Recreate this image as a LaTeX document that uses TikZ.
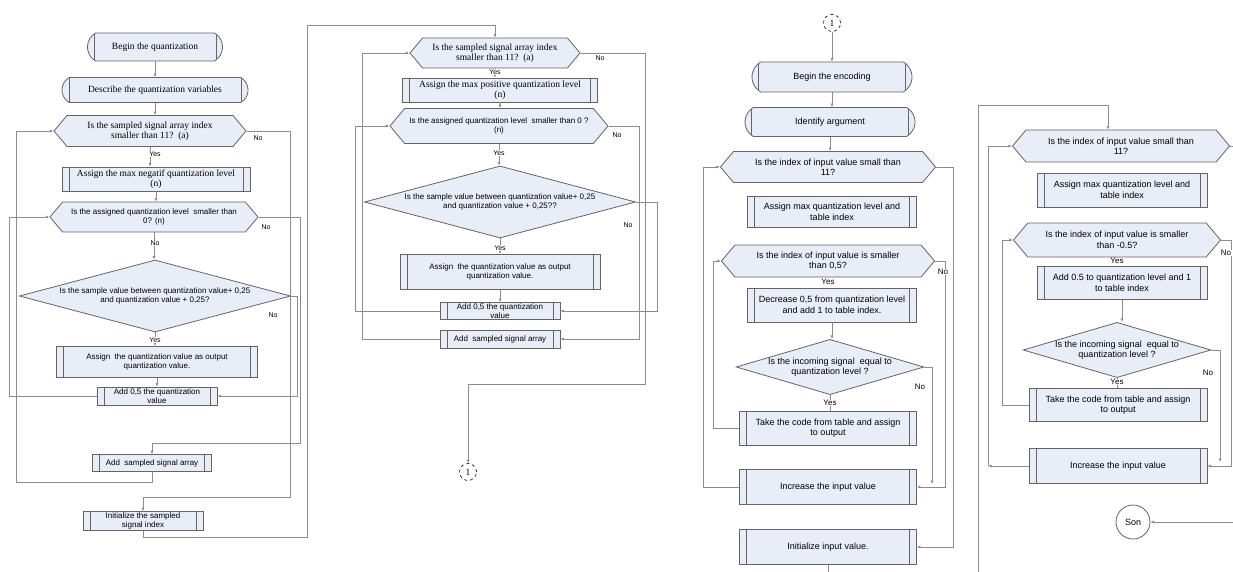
\documentclass[tikz,border=0pt]{standalone}
\usepackage{fontspec}
\setmainfont{Liberation Serif}
\newfontfamily\sansfam{Liberation Sans}
\usetikzlibrary{shapes.misc,shapes.symbols,shapes.geometric,arrows.meta}
\definecolor{boxfill}{RGB}{232,237,247}
\definecolor{shapeline}{RGB}{100,100,100}
\definecolor{lineclr}{RGB}{140,140,140}
\newcommand{\qrm}{\rmfamily\fontsize{9.5}{10}\selectfont}
\newcommand{\qsf}{\sansfam\fontsize{8}{9}\selectfont}
\newcommand{\esf}{\sansfam\fontsize{9}{10.5}\selectfont}
\newcommand{\qlab}{\sansfam\fontsize{7}{8}\selectfont}
\newcommand{\elab}{\sansfam\fontsize{8}{9}\selectfont}
\tikzset{
  sz/.style 2 args={minimum width=#1pt, minimum height=#2pt},
  shp/.style={draw=shapeline, fill=boxfill, line width=0.8pt, inner sep=0pt, align=center, text=black},
  innerbars/.style={path picture={
      \draw[shapeline, line width=0.6pt]
        ([xshift=#1]path picture bounding box.north west) -- ([xshift=#1]path picture bounding box.south west)
        ([xshift=-#1]path picture bounding box.north east) -- ([xshift=-#1]path picture bounding box.south east);}},
  term/.style={shp, rounded rectangle, rounded rectangle arc length=120, innerbars=9pt},
  proc/.style={shp, rectangle, innerbars=7pt},
  prep/.style={shp, signal, signal to=east and west, signal pointer angle=100},
  decide/.style={shp, diamond, aspect=#1},
  conn/.style={circle, draw=black, dashed, line width=0.6pt, inner sep=0pt, minimum size=17pt, font=\qrm},
  lbl/.style={fill=white, inner sep=0.5pt},
  arr/.style={draw=lineclr, line width=0.7pt, -{Latex[length=3.5pt,width=3pt]}},
  ln/.style={draw=lineclr, line width=0.7pt},
}
\begin{document}
\begin{tikzpicture}[x=1pt, y=-1pt]
\fill[white] (0,0) rectangle (1233,572);
\useasboundingbox (0,0) rectangle (1233,572);

% quantization, negative levels
\node[term, sz={135}{28}, font=\qrm] (q1beg) at (155,47) {Begin the quantization};
\node[term, sz={186}{25}, font=\qrm] (q1desc) at (155,90) {Describe the quantization variables};
\node[prep, sz={192}{31}, font=\qrm] (q1hexa) at (150,131) {Is the sampled signal array index\\smaller than 11?~~(a)};
\node[proc, sz={188}{24}, font=\qrm] (q1max) at (156,179) {Assign the max negatif quantization level\\(n)};
\node[prep, sz={208}{30}, font=\qsf] (q1hexb) at (154,217) {Is the assigned quantization level~~smaller than\\0? (n)};
\node[decide=4.9, sz={264}{72}, font=\qsf] (q1dia) at (155,296) {Is the sample value between quantization value+ 0,25\\and quantization value + 0,25?};
\node[proc, sz={201}{31}, font=\qsf] (q1out) at (157,362) {Assign~~the quantization value as output\\quantization value.};
\node[proc, sz={120}{18}, font=\qsf] (q1add) at (157,396) {Add 0,5 the quantization\\value};
\node[proc, sz={119}{17}, font=\qsf] (q1arr) at (152,463) {Add~~sampled signal array};
\node[proc, sz={120}{19}, font=\qsf] (q1init) at (143,521) {Initialize the sampled\\signal index};

% quantization, positive levels
\node[prep, sz={170}{30}, font=\qrm] (q2hexa) at (495,53) {Is the sampled signal array index\\smaller than 11?~~(a)};
\node[proc, sz={195}{24}, font=\qrm] (q2max) at (500,90) {Assign the max positive quantization level\\(n)};
\node[prep, sz={218}{35}, font=\qsf] (q2hexb) at (499,126) {Is the assigned quantization level~~smaller than 0 ?\\(n)};
\node[decide=4.9, sz={260}{72}, font=\qsf] (q2dia) at (500,202) {Is the sample value between quantization value+ 0,25\\and quantization value + 0,25??};
\node[proc, sz={200}{35}, font=\qsf] (q2out) at (500,272) {Assign~~the quantization value as output\\quantization value.};
\node[proc, sz={120}{17}, font=\qsf] (q2add) at (500,311) {Add 0,5 the quantization\\value};
\node[proc, sz={120}{18}, font=\qsf] (q2arr) at (500,339) {Add~~sampled signal array};
\node[conn] (q2con) at (468,472) {1};

% encoding, positive
\node[conn] (e1con) at (832,23) {1};
\node[term, sz={160}{30}, font=\esf] (e1beg) at (832,77) {Begin the encoding};
\node[term, sz={170}{29}, font=\esf] (e1arg) at (830,122) {Identify argument};
\node[prep, sz={215}{31}, font=\esf] (e1hexc) at (828,167) {Is the index of input value small than\\11?};
\node[proc, sz={169}{31}, font=\esf] (e1max) at (832,212) {Assign max quantization level and\\table index};
\node[prep, sz={213}{32}, font=\esf] (e1hexd) at (828,261) {Is the index of input value is smaller\\than 0,5?};
\node[proc, sz={169}{34}, font=\esf] (e1dec) at (832,305) {Decrease 0,5 from quantization level\\and add 1 to table index.};
\node[decide=3.4, sz={185}{55}, font=\esf] (e1dia) at (830,367) {Is the incoming signal~~equal to\\quantization level ?};
\node[proc, sz={177}{34}, font=\esf] (e1take) at (828,428) {Take the code from table and assign\\to output};
\node[proc, sz={177}{35}, font=\esf] (e1inc) at (828,487) {Increase the input value};
\node[proc, sz={177}{35}, font=\esf] (e1init) at (828,547) {Initialize input value.};

% encoding, negative
\node[prep, sz={217}{32}, font=\esf] (e2hexf) at (1121,146) {Is the index of input value small than\\11?};
\node[proc, sz={170}{34}, font=\esf] (e2max) at (1122,190) {Assign max quantization level and\\table index};
\node[prep, sz={207}{34}, font=\esf] (e2hexg) at (1117,240) {Is the index of input value is smaller\\than -0.5?};
\node[proc, sz={170}{33}, font=\esf] (e2add) at (1122,283) {Add 0.5 to quantization level and 1\\to table index};
\node[decide=3.4, sz={185}{55}, font=\esf] (e2dia) at (1117,350) {Is the incoming signal~~equal to\\quantization level ?};
\node[proc, sz={178}{33}, font=\esf] (e2take) at (1118,405) {Take the code from table and assign\\to output};
\node[proc, sz={178}{35}, font=\esf] (e2inc) at (1118,466) {Increase the input value};
\node[circle, draw=shapeline, fill=white, line width=0.8pt, minimum size=34pt, inner sep=0pt, font=\esf] (e2son) at (1133,522) {Son};

% free ends
\coordinate (e1join) at (932,484);
\coordinate (e1out) at (828,572);
\coordinate (e2in) at (978,572);
\coordinate (e2turn) at (988,466);
\coordinate (e2join) at (1220,462);
\coordinate (e2right) at (1233,146);
\coordinate (e2back) at (1233,522);

% edges
\foreach \a/\b in {q1beg/q1desc, q1desc/q1hexa, q1hexa/q1max, q1max/q1hexb, q1hexb/q1dia, q1dia/q1out, q1out/q1add,
                   q2hexa/q2max, q2max/q2hexb, q2hexb/q2dia, q2dia/q2out, q2out/q2add,
                   e1con/e1beg, e1beg/e1arg, e1arg/e1hexc, e1dec/e1dia, e2add/e2dia}
  \draw[arr] (\a.south) -- (\a.south |- \b.north);
\draw[ln] (e1dia.south) -- (e1dia.south |- e1take.north);
\draw[ln] (e2dia.south) -- (e2dia.south |- e2take.north);

\draw[arr] (q1add.west) -- (9,396) |- (q1hexb.west);
\draw[arr] (q1arr.south) |- (16,482) |- (q1hexa.west);
\draw[arr] (q1hexa.east) -| (290,497) -| (q1init.north);
\draw[arr] (q1hexb.east) -| (300,443) -| (q1arr.north);
\draw[arr] (q1dia.east) -| (297,396) -- (q1add.east);
\draw[arr] (q1init.south) |- (307,537) -- (307,25) -| (q2hexa.north);

\draw[arr] (q2add.west) -- (355,311) |- (q2hexb.west);
\draw[arr] (q2arr.west) -- (362,339) |- (q2hexa.west);
\draw[arr] (q2hexa.east) -| (645,384) -| (q2con.north);
\draw[arr] (q2hexb.east) -| (639,339) -- (q2arr.east);
\draw[arr] (q2dia.east) -| (657,311) -- (q2add.east);

\draw[arr] (e1take.west) -- (713,428) |- (e1hexd.west);
\draw[arr] (e1inc.west) -- (703,487) |- (e1hexc.west);
\draw[arr] (e1dia.east) -| (e1join);
\draw[arr] (e1hexd.east) -| (945,487) -- (e1inc.east);
\draw[arr] (e1hexc.east) -| (953,547) -- (e1init.east);
\draw[ln] (e1init.south) -- (e1out);

\draw[arr] (e2in) -- (978,105) -| ([xshift=-13pt]e2hexf.north);
\draw[arr] (e2inc.west) -- (e2turn);
\draw[arr] (e2turn) |- (e2hexf.west);
\draw[arr] (e2take.west) -- (1002,405) |- (e2hexg.west);
\draw[arr] (e2dia.east) -| (e2join);
\draw[arr] (e2hexg.east) -| (1231,466) -- (e2inc.east);
\draw[ln] (e2hexf.east) -- (e2right);
\draw[arr] (e2back) -- (e2son.east);

% labels
\node[lbl, font=\qlab] at (258,138) {No};
\node[lbl, font=\qlab] at (155,154) {Yes};
\node[lbl, font=\qlab] at (266,227) {No};
\node[lbl, font=\qlab] at (155,243) {No};
\node[lbl, font=\qlab] at (273,315) {No};
\node[lbl, font=\qlab] at (155,340) {Yes};
\node[lbl, font=\qlab] at (600,58) {No};
\node[lbl, font=\qlab] at (495,72) {Yes};
\node[lbl, font=\qlab] at (617,135) {No};
\node[lbl, font=\qlab] at (499,153) {Yes};
\node[lbl, font=\qlab] at (500,248) {Yes};
\node[lbl, font=\qlab] at (628,225) {No};
\node[lbl, font=\elab] at (943,272) {No};
\node[lbl, font=\elab] at (828,282) {Yes};
\node[lbl, font=\elab] at (920,387) {No};
\node[lbl, font=\elab] at (830,403) {Yes};
\node[lbl, font=\elab] at (1117,261) {Yes};
\node[lbl, font=\elab] at (1226,253) {No};
\node[lbl, font=\elab] at (1208,373) {No};
\node[lbl, font=\elab] at (1117,382) {Yes};
\end{tikzpicture}
\end{document}
